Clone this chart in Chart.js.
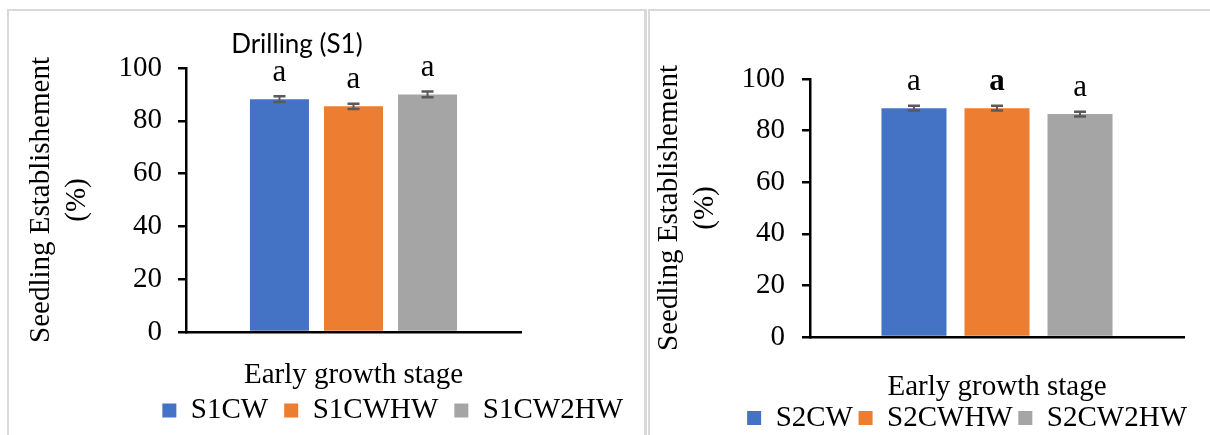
<!DOCTYPE html>
<html><head><meta charset="utf-8">
<script src="https://cdn.jsdelivr.net/npm/chart.js@4.4.0/dist/chart.umd.min.js"></script>
<style>
html,body{margin:0;padding:0;background:#fff;width:1210px;height:435px;overflow:hidden}
.panel{position:absolute;box-sizing:border-box}
#p1{left:7px;top:9px;width:640px;height:440px;border:2px solid #d9d9d9;border-right-width:3px}
#p2{left:648px;top:9px;width:570px;height:440px;border:2px solid #d9d9d9;border-right:none}
canvas{position:absolute}
#c1{left:8px;top:10px}
#c2{left:649px;top:10px}
</style>
</head><body>
<div class="panel" id="p1"></div>
<div class="panel" id="p2"></div>
<canvas id="c1" width="638" height="425"></canvas>
<canvas id="c2" width="561" height="425"></canvas>
<script>
// ---- data ----
const categories = ['Early growth stage'];
const yTicks = [0, 20, 40, 60, 80, 100];
const s1Series = ['S1CW', 'S1CWHW', 'S1CW2HW'];
const s1Values = [88.2, 85.5, 90.0];
const s1Errors = [1.1, 1.0, 1.1];
const s1Letters = ['a', 'a', 'a'];
const s1LetterBold = [false, false, false];
const s2Series = ['S2CW', 'S2CWHW', 'S2CW2HW'];
const s2Values = [88.7, 88.7, 86.4];
const s2Errors = [0.9, 0.9, 0.9];
const s2Letters = ['a', 'a', 'a'];
const s2LetterBold = [false, true, false];
const seriesColors = ['#4472C4', '#ED7D31', '#A5A5A5'];
const panelTitle = 'Drilling (S1)';
const yTitle = ['Seedling Establishement', '(%)'];

const SERIF = '"Liberation Serif", "Times New Roman", serif';

// error bars + significance letters, positioned through the y scale
const annot = {
  id: 'annot',
  afterDatasetsDraw(chart, args, o) {
    const ctx = chart.ctx, ys = chart.scales.y;
    ctx.save();
    chart.data.datasets.forEach((ds, i) => {
      const meta = chart.getDatasetMeta(i);
      meta.data.forEach((bar, j) => {
        const v = ds.data[j], e = o.errors[i];
        const x = bar.x;
        const yt = ys.getPixelForValue(v + e), yb = ys.getPixelForValue(v - e);
        ctx.strokeStyle = '#595959';
        ctx.lineWidth = 2;
        ctx.beginPath(); ctx.moveTo(x, yt); ctx.lineTo(x, yb); ctx.stroke();
        ctx.lineWidth = 2.5;
        ctx.beginPath();
        ctx.moveTo(x - 6, yt); ctx.lineTo(x + 6, yt);
        ctx.moveTo(x - 6, yb); ctx.lineTo(x + 6, yb);
        ctx.stroke();
        ctx.fillStyle = '#000';
        ctx.font = (o.bold[i] ? 'bold ' : '') + '31px ' + SERIF;
        ctx.textAlign = 'center';
        ctx.textBaseline = 'middle';
        ctx.fillText(o.letters[i], x, ys.getPixelForValue(v + o.letterOffset));
      });
    });
    ctx.restore();
  }
};

const titleShift = {
  id: 'titleShift',
  afterLayout(chart, args, o) {
    const tb = chart.titleBlock;
    if (!tb || o.center == null) return;
    const ca = chart.chartArea;
    const c = ca.left + o.center * (ca.right - ca.left);
    tb.left = c - 150; tb.right = c + 150; tb.width = 300;
  }
};

function makeChart(id, cfg) {
  const datasets = cfg.series.map((name, i) => ({
    label: name,
    data: [cfg.values[i]],
    backgroundColor: seriesColors[i],
    borderWidth: 0,
    categoryPercentage: cfg.catPct,
    barPercentage: cfg.barPct
  }));
  return new Chart(document.getElementById(id), {
    type: 'bar',
    data: { labels: categories, datasets },
    plugins: [annot, titleShift],
    options: {
      responsive: false,
      animation: false,
      layout: { padding: { left: 0, right: cfg.padRight, top: cfg.padTop, bottom: 0 } },
      plugins: {
        title: cfg.title ? {
          display: true, text: cfg.title, color: '#000',
          font: { family: 'Lato', size: 26, weight: 'normal', lineHeight: 1.2 },
          padding: { top: 19.4, bottom: 7.4 }
        } : { display: false },
        legend: {
          display: true, position: 'bottom', align: 'end', maxHeight: cfg.legendH,
          labels: { boxWidth: 14, boxHeight: 14, padding: cfg.legendPad, color: '#000',
                    font: { family: SERIF, size: 29 } }
        },
        tooltip: { enabled: false },
        annot: { errors: cfg.errors, letters: cfg.letters, bold: cfg.bold, letterOffset: 10 },
        titleShift: { center: cfg.titleCenter }
      },
      scales: {
        x: {
          type: 'category',
          grid: { display: false, drawTicks: false },
          border: { display: true, color: '#000', width: 2.5 },
          ticks: { display: false },
          title: { display: true, text: categories[0], color: '#000',
                   font: { family: SERIF, size: 29, lineHeight: 1.2 },
                   padding: { top: 0, bottom: cfg.xTitlePadB } },
          afterFit(s) { s.height = cfg.xH; }
        },
        y: {
          min: 0, max: 100,
          afterBuildTicks(s) { s.ticks = yTicks.map(v => ({ value: v })); },
          grid: { display: true, drawOnChartArea: false, drawTicks: true, tickLength: 8,
                  color: '#000', lineWidth: 2.5 },
          border: { display: true, color: '#000', width: 2.5 },
          ticks: { color: '#000', font: { family: SERIF, size: 29 }, padding: cfg.yPad },
          title: { display: true, text: yTitle, color: '#000',
                   font: { family: SERIF, size: 29, lineHeight: 1.24 },
                   padding: { top: cfg.yTitlePad, bottom: 0 } },
          afterFit(s) { s.width = cfg.yW; }
        },
        yR: {
          position: 'right', display: true,
          grid: { display: false, drawTicks: false },
          border: { display: false },
          ticks: { display: false },
          afterFit(s) { s.width = cfg.rightW; }
        }
      }
    }
  });
}

makeChart('c1', {
  series: s1Series, values: s1Values, errors: s1Errors, letters: s1Letters, bold: s1LetterBold,
  title: panelTitle, titleCenter: 0.331,
  catPct: 0.663, barPct: 0.797,
  padRight: 7, padTop: 0, rightW: 118, yW: 178, yPad: 16, yTitlePad: 15,
  xH: 48, xTitlePadB: -12.4, legendH: 55, legendPad: 16
});
makeChart('c2', {
  series: s2Series, values: s2Values, errors: s2Errors, letters: s2Letters, bold: s2LetterBold,
  title: null, titleCenter: null,
  catPct: 0.666, barPct: 0.783,
  padRight: 17.4, padTop: 69, rightW: 8.6, yW: 161, yPad: 17, yTitlePad: 2,
  xH: 61, xTitlePadB: -6.4, legendH: 37, legendPad: 5.6
});
</script>
</body></html>
